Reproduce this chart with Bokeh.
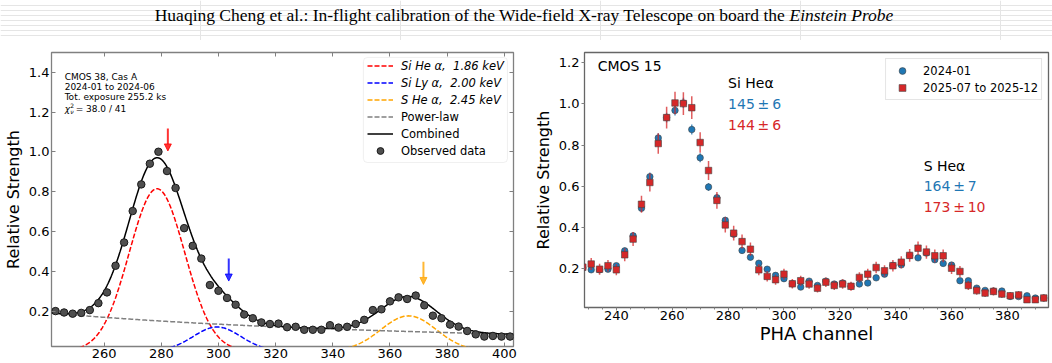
import numpy as np
from bokeh.plotting import figure
from bokeh.layouts import column, row
from bokeh.models import (ColumnDataSource, Range1d, FixedTicker, LinearAxis, Legend,
                          LegendItem, Arrow, NormalHead, BoxAnnotation,
                          PrintfTickFormatter)
from bokeh.core.properties import value
from bokeh.embed import file_html
from bokeh.resources import INLINE

SANS = "DejaVu Sans"
SERIF = "Liberation Serif"
FRAME = "#808080"

# ---------------- header ----------------
title_main = ("Huaqing Cheng et al.: In-flight calibration of the Wide-field "
              "X-ray Telescope on board the")
title_ital = "Einstein Probe"

# ---------------- left panel: CMOS 38, Cas A ----------------
cas_channel = [243, 246, 249, 252, 255, 258, 261, 264, 267, 270,
               273, 276, 279, 282, 285, 288, 291, 294, 297, 300,
               303, 306, 309, 312, 315, 318, 321, 324, 327, 330,
               333, 336, 339, 342, 345, 348, 351, 354, 357, 360,
               363, 366, 369, 372, 375, 378, 381, 384, 387, 390,
               393, 396, 399, 402]
cas_strength = [0.200, 0.193, 0.187, 0.191, 0.205, 0.240, 0.294, 0.428, 0.545, 0.703,
                0.837, 0.941, 1.001, 0.904, 0.819, 0.617, 0.528, 0.464, 0.331, 0.302,
                0.266, 0.232, 0.183, 0.164, 0.143, 0.135, 0.137, 0.119, 0.121, 0.106,
                0.106, 0.106, 0.129, 0.117, 0.121, 0.135, 0.156, 0.205, 0.209, 0.249,
                0.269, 0.261, 0.278, 0.229, 0.177, 0.164, 0.132, 0.122, 0.100, 0.083,
                0.072, 0.075, 0.072, 0.072]

# fitted emission lines: centre (channel), sigma (channel), peak height
line_labels = ["Si He α,  1.86 keV", "Si Ly α,  2.00 keV", "S He α,  2.45 keV"]
line_centre = [278.5, 299.5, 366.5]
line_sigma = [9.7, 8.3, 9.7]
line_peak = [0.815, 0.120, 0.176]
line_colors = ["red", "blue", "orange"]
# power-law continuum: value at the reference channel and photon index
pl_ref_channel = 243.0
pl_norm = 0.188
pl_index = 1.6
# expected line positions marked by arrows
arrow_channel = [282.3, 303.6, 371.7]
arrow_tail = [1.118, 0.464, 0.448]
arrow_tip = [1.005, 0.351, 0.334]

info_lines = ["CMOS 38, Cas A", "2024-01 to 2024-06", "Tot. exposure 255.2 ks"]
chi2_text = "= 38.0 / 41"

left_xticks = [260, 280, 300, 320, 340, 360, 380, 400]
left_yticks = [0.2, 0.4, 0.6, 0.8, 1.0, 1.2, 1.4]

# ---------------- right panel: CMOS 15 ----------------
pha_channel = [228, 231, 234, 237, 240, 243, 246, 249, 252, 255,
               258, 261, 264, 267, 270, 273, 276, 279, 282, 285,
               288, 291, 294, 297, 300, 303, 306, 309, 312, 315,
               318, 321, 324, 327, 330, 333, 336, 339, 342, 345,
               348, 351, 354, 357, 360, 363, 366, 369, 372, 375,
               378, 381, 384, 387, 390, 393, 396]
strength_2024 = [0.205, 0.195, 0.195, 0.198, 0.215, 0.287, 0.360, 0.494, 0.647, 0.835,
                 0.934, 0.969, 1.005, 0.876, 0.739, 0.597, 0.545, 0.435, 0.368, 0.289,
                 0.256, 0.227, 0.198, 0.168, 0.152, 0.127, 0.111, 0.140, 0.119, 0.140,
                 0.126, 0.131, 0.115, 0.126, 0.131, 0.156, 0.174, 0.216, 0.219, 0.265,
                 0.253, 0.276, 0.244, 0.226, 0.218, 0.142, 0.142, 0.106, 0.095, 0.092,
                 0.092, 0.066, 0.065, 0.069, 0.058, 0.058, 0.050]
err_2024 = [0.013, 0.013, 0.013, 0.013, 0.013, 0.015, 0.016, 0.018, 0.021, 0.023,
            0.024, 0.025, 0.025, 0.024, 0.022, 0.020, 0.019, 0.018, 0.016, 0.015,
            0.014, 0.013, 0.013, 0.012, 0.012, 0.011, 0.010, 0.011, 0.011, 0.011,
            0.011, 0.011, 0.010, 0.011, 0.011, 0.012, 0.012, 0.013, 0.013, 0.014,
            0.014, 0.015, 0.014, 0.013, 0.013, 0.011, 0.011, 0.010, 0.010, 0.010,
            0.010, 0.009, 0.009, 0.009, 0.008, 0.008, 0.008]
strength_2025 = [0.208, 0.223, 0.198, 0.215, 0.195, 0.268, 0.344, 0.513, 0.619, 0.808,
                 0.934, 1.005, 1.002, 0.982, 0.813, 0.677, 0.532, 0.413, 0.373, 0.332,
                 0.295, 0.195, 0.163, 0.147, 0.174, 0.127, 0.142, 0.126, 0.106, 0.135,
                 0.119, 0.126, 0.115, 0.158, 0.174, 0.206, 0.190, 0.215, 0.232, 0.265,
                 0.300, 0.281, 0.263, 0.263, 0.203, 0.187, 0.119, 0.094, 0.082, 0.090,
                 0.077, 0.069, 0.073, 0.050, 0.050, 0.058, 0.050]
err_2025 = [0.028, 0.029, 0.027, 0.028, 0.027, 0.031, 0.034, 0.041, 0.044, 0.050,
            0.053, 0.055, 0.055, 0.055, 0.050, 0.046, 0.041, 0.037, 0.036, 0.034,
            0.032, 0.027, 0.025, 0.024, 0.026, 0.023, 0.024, 0.023, 0.021, 0.023,
            0.022, 0.023, 0.022, 0.025, 0.026, 0.028, 0.027, 0.028, 0.029, 0.031,
            0.032, 0.032, 0.031, 0.031, 0.028, 0.027, 0.022, 0.020, 0.019, 0.020,
            0.019, 0.018, 0.019, 0.016, 0.016, 0.017, 0.016]
period_labels = ["2024-01", "2025-07 to 2025-12"]
period_colors = ["#1f77b4", "#d62728"]

peak_names = ["Si Heα", "S Heα"]
gain_2024 = ["145\u2009±\u20096", "164\u2009±\u20097"]
gain_2025 = ["144\u2009±\u20096", "173\u2009±\u200910"]

right_xticks = [240, 260, 280, 300, 320, 340, 360, 380]
right_yticks = [0.2, 0.4, 0.6, 0.8, 1.0, 1.2]


def style_axis(ax, ticks, tick_in, tick_out, size="13px", standoff=2):
    ax.ticker = FixedTicker(ticks=ticks)
    ax.axis_line_color = None
    ax.major_tick_line_color = FRAME
    ax.major_tick_line_width = 1
    ax.major_tick_in = tick_in
    ax.major_tick_out = tick_out
    ax.minor_tick_line_color = None
    ax.major_label_standoff = standoff
    ax.major_label_text_font = SANS
    ax.major_label_text_font_size = size
    ax.major_label_text_color = "black"
    ax.axis_label_text_font = SANS
    ax.axis_label_text_font_style = "normal"
    ax.axis_label_text_color = "black"


# ---------------- header figure ----------------
head = figure(width=1052, height=40, x_range=Range1d(0, 1052), y_range=Range1d(0, 40),
              x_axis_location=None, y_axis_location=None, min_border=0,
              outline_line_color=None, toolbar_location=None, output_backend="svg")
head.text(x=[785], y=[25.5], text=[title_main], text_align="right",
          text_baseline="alphabetic", text_font=value(SERIF), text_font_size="17.5px",
          text_color="black")
head.text(x=[789], y=[25.5], text=[title_ital], text_align="left",
          text_baseline="alphabetic", text_font=value(SERIF), text_font_size="17.5px",
          text_font_style="italic", text_color="black")

# ---------------- left figure ----------------
left = figure(frame_width=462, frame_height=294,
              x_range=Range1d(241.6, 403.2), y_range=Range1d(0.022, 1.5),
              min_border_left=47, min_border_right=11, min_border_top=12,
              min_border_bottom=17, output_backend="svg", toolbar_location=None,
              outline_line_color=FRAME, outline_line_width=1.3)
left.grid.visible = False
style_axis(left.xaxis[0], left_xticks, 4, 0, standoff=2)
style_axis(left.yaxis[0], left_yticks, 4, 0, standoff=2)
left.yaxis.formatter = PrintfTickFormatter(format="%.1f")
left.yaxis.axis_label = "Relative Strength"
left.yaxis.axis_label_text_font_size = "16px"
left.yaxis.axis_label_standoff = 3
for loc, ticks in (("above", left_xticks), ("right", left_yticks)):
    ax = LinearAxis()
    style_axis(ax, ticks, 4, 0, size="1px", standoff=0)
    ax.major_label_overrides = {t: "" for t in ticks}
    left.add_layout(ax, loc)

grid = np.linspace(241.6, 403.2, 600)
continuum = pl_norm * (grid / pl_ref_channel) ** (-pl_index)
total = continuum.copy()
line_renderers = []
for c, s, a, col in zip(line_centre, line_sigma, line_peak, line_colors):
    prof = a * np.exp(-0.5 * ((grid - c) / s) ** 2)
    total = total + prof
    line_renderers.append(left.line(grid, prof, line_color=col, line_width=1.5,
                                    line_dash="5 2"))
pl_r = left.line(grid, continuum, line_color="gray", line_width=1.5, line_dash="5 2")
comb_r = left.line(grid, total, line_color="black", line_width=1.5)
obs_r = left.scatter(cas_channel, cas_strength, size=7.5, fill_color="#4f4f4f",
                     line_color="#1a1a1a", line_width=1)

for i, col in enumerate(line_colors):
    left.add_layout(Arrow(x_start=arrow_channel[i], y_start=arrow_tail[i],
                          x_end=arrow_channel[i], y_end=arrow_tip[i],
                          line_color=col, line_alpha=0.8, line_width=2,
                          end=NormalHead(size=7, fill_color=col, line_color=col,
                                         fill_alpha=0.8, line_alpha=0.8)))

left.text(x=[246.2] * 3, y=[1.379, 1.327, 1.277], text=info_lines,
          text_font=value(SANS), text_font_size="9px", text_baseline="middle",
          text_color="black")
left.text(x=[246.2], y=[1.217], text=["χ"], text_font=value(SANS), text_font_size="9px",
          text_font_style="italic", text_baseline="middle", text_color="black")
left.text(x=[246.2], y=[1.217], text=["2"], x_offset=5.5, y_offset=-3.5,
          text_font=value(SANS), text_font_size="6px", text_baseline="middle",
          text_color="black")
left.text(x=[246.2], y=[1.217], text=["ν"], x_offset=5.5, y_offset=3,
          text_font=value(SANS), text_font_size="6px", text_font_style="italic",
          text_baseline="middle", text_color="black")
left.text(x=[246.2], y=[1.217], text=[chi2_text], x_offset=11,
          text_font=value(SANS), text_font_size="9px", text_baseline="middle",
          text_color="black")

# legend frame plus two legend blocks (italic line labels, upright model labels)
left.add_layout(BoxAnnotation(left=350.7, right=401.1, top=1.475, bottom=0.947,
                              fill_color="white", fill_alpha=0.8,
                              line_color="#cccccc", line_width=1, border_radius=4))
leg_kw = dict(margin=0, padding=0, spacing=0, glyph_width=26, glyph_height=17,
              label_height=17, label_standoff=8, label_text_font=SANS,
              label_text_font_size="11.5px", label_text_color="black",
              border_line_color=None, background_fill_alpha=0)
leg_lines = Legend(items=[LegendItem(label=lab, renderers=[r])
                          for lab, r in zip(line_labels, line_renderers)],
                   location=(316, 238), label_text_font_style="italic", **leg_kw)
leg_model = Legend(items=[LegendItem(label="Power-law", renderers=[pl_r]),
                          LegendItem(label="Combined", renderers=[comb_r]),
                          LegendItem(label="Observed data", renderers=[obs_r])],
                   location=(316, 187), **leg_kw)
left.add_layout(leg_lines)
left.add_layout(leg_model)

# ---------------- right figure ----------------
right = figure(frame_width=464, frame_height=255,
               x_range=Range1d(228.6, 394.7), y_range=Range1d(0.012, 1.25),
               min_border_left=60, min_border_right=8, min_border_top=12,
               min_border_bottom=56, output_backend="svg", toolbar_location=None,
               outline_line_color="#666666", outline_line_width=1.3)
right.grid.visible = False
style_axis(right.xaxis[0], right_xticks, 0, 3, standoff=0)
right.xaxis.ticker = FixedTicker(ticks=right_xticks,
                                 minor_ticks=[t for t in range(230, 395, 5) if t % 20])
right.xaxis.minor_tick_line_color = FRAME
right.xaxis.minor_tick_in = 0
right.xaxis.minor_tick_out = 2
right.xaxis.axis_label = "PHA channel"
right.xaxis.axis_label_text_font_size = "18px"
right.xaxis.axis_label_standoff = 0
style_axis(right.yaxis[0], right_yticks, 0, 3, standoff=2)
right.yaxis.formatter = PrintfTickFormatter(format="%.1f")
right.yaxis.axis_label = "Relative Strength"
right.yaxis.axis_label_text_font_size = "16px"
right.yaxis.axis_label_standoff = 3

legend_items = []
for vals, errs, col, lab, marker in ((strength_2024, err_2024, period_colors[0],
                                      period_labels[0], "circle"),
                                     (strength_2025, err_2025, period_colors[1],
                                      period_labels[1], "square")):
    src = ColumnDataSource(dict(x=pha_channel, y=vals,
                                lo=[v - e for v, e in zip(vals, errs)],
                                hi=[v + e for v, e in zip(vals, errs)]))
    right.segment(x0="x", y0="lo", x1="x", y1="hi", source=src, line_color=col,
                  line_width=1.5, line_alpha=0.75)
    pts = right.scatter("x", "y", source=src, marker=marker, size=6.5, fill_color=col,
                        line_color="#444444", line_alpha=0.6, line_width=1)
    legend_items.append(LegendItem(label=lab, renderers=[pts]))

right.add_layout(Legend(items=legend_items, location="top_right", margin=6, padding=3,
                        spacing=0, glyph_width=26, glyph_height=17, label_height=17,
                        label_standoff=8, label_text_font=SANS,
                        label_text_font_size="11.5px", label_text_color="black",
                        border_line_color="#cccccc", border_line_width=1,
                        background_fill_alpha=0.8))

right.text(x=[233.3], y=[1.185], text=["CMOS 15"], text_font=value(SANS),
           text_font_size="14px", text_baseline="middle", text_color="black")
txt_kw = dict(text_font=value(SANS), text_font_size="14px", text_baseline="middle")
right.text(x=[280, 350], y=[1.1, 0.7], text=peak_names, text_color="black", **txt_kw)
right.text(x=[280, 350], y=[1.0, 0.6], text=gain_2024, text_color=period_colors[0], **txt_kw)
right.text(x=[280, 350], y=[0.9, 0.5], text=gain_2025, text_color=period_colors[1], **txt_kw)

page = column(head, row(left, right, spacing=0), spacing=0)
open("out.html", "w").write(file_html(page, INLINE, title="WXT in-flight calibration"))
